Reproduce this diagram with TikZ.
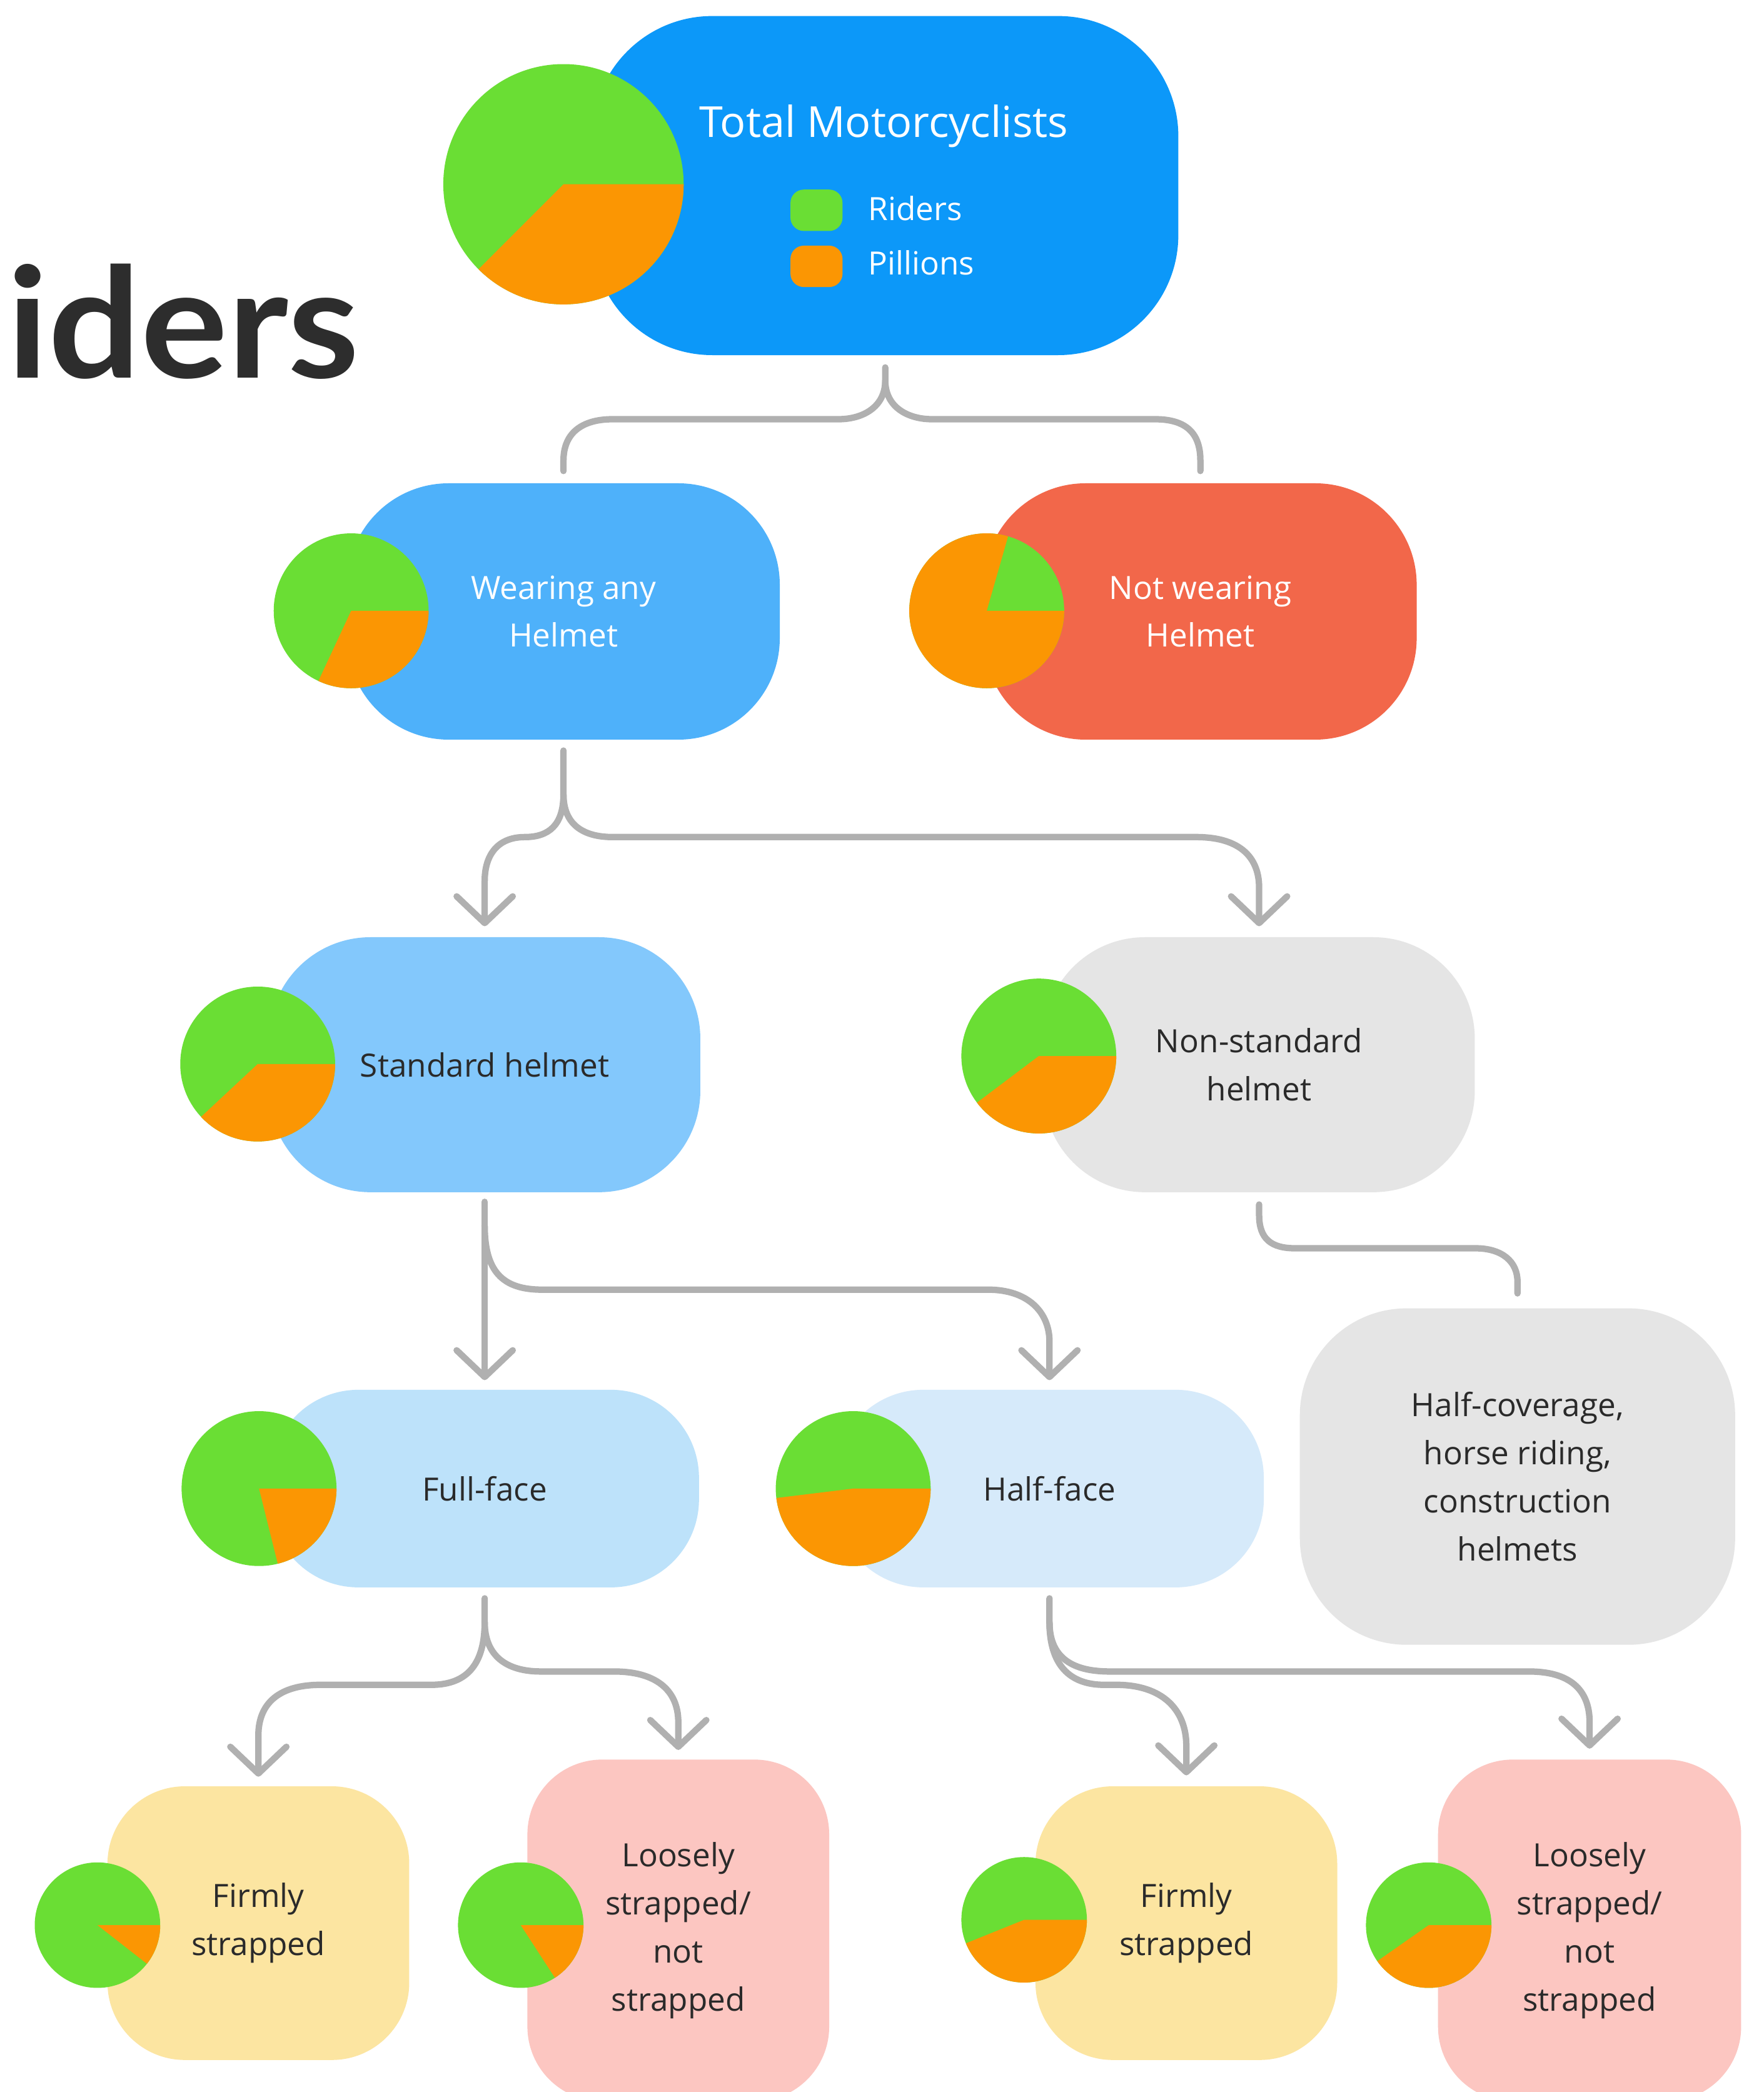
\documentclass[tikz,border=0pt]{standalone}
\usepackage{fontspec}
\setmainfont{Open Sans}
\newfontfamily\latofont[FakeStretch=1.06]{Lato}
\usetikzlibrary{arrows.meta,calc}
\definecolor{ctop}{HTML}{0C98F9}
\definecolor{cgreen}{HTML}{6ADE34}
\definecolor{corange}{HTML}{FB9603}
\definecolor{cwear}{HTML}{4EB1FA}
\definecolor{cnot}{HTML}{F2674A}
\definecolor{cstd}{HTML}{83C8FC}
\definecolor{cgray}{HTML}{E5E5E5}
\definecolor{cfull}{HTML}{BDE2FA}
\definecolor{chalf}{HTML}{D6EAFA}
\definecolor{cyellow}{HTML}{FCE5A1}
\definecolor{cpink}{HTML}{FCC6C1}
\definecolor{cline}{HTML}{B0B0B0}
\definecolor{ctext}{HTML}{2A2A2A}
\definecolor{ctitle}{HTML}{2D2D2D}
\newcommand{\mypie}[5]{%
  \fill[cgreen] (#1,#2) circle (#3);
  \fill[corange] (#1,#2) -- ++(#4:#3) arc[start angle=#4, end angle=#5, radius=#3] -- cycle;}
\begin{document}
\begin{tikzpicture}[x=1pt,y=1pt,
  box/.style={rectangle, inner sep=0pt, align=center, text=ctext, font=\fontsize{24pt}{36pt}\selectfont},
  conn/.style={draw=cline, line width=4.8pt, line cap=round, line join=round},
  arr/.style={-{Straight Barb[length=20pt,width=42pt,round]}},
  lab/.style={inner sep=0pt, text=white, font=\fontsize{24pt}{36pt}\selectfont}]
\useasboundingbox (0,0) rectangle (1321,-1567);
\fill[white] (0,0) rectangle (1321,-1567);

% title fragment
\node[anchor=base west, inner sep=0pt, text=ctitle, font=\latofont\bfseries\fontsize{115pt}{115pt}\selectfont] (ttl) at (5,-283) {iders};

% boxes
\node[box, fill=ctop, minimum width=439pt, minimum height=254pt, rounded corners=90pt] (top) at (663,-139) {};
\node[box, fill=cwear, text=white, minimum width=324pt, minimum height=192pt, rounded corners=76pt] (wear) at (422,-458) {Wearing any\\Helmet};
\node[box, fill=cnot, text=white, minimum width=324pt, minimum height=192pt, rounded corners=76pt] (notw) at (899,-458) {Not wearing\\Helmet};
\node[box, fill=cstd, minimum width=323pt, minimum height=191pt, rounded corners=76pt] (std) at (363,-797.5) {Standard helmet};
\node[box, fill=cgray, minimum width=323pt, minimum height=191pt, rounded corners=76pt] (nstd) at (943,-797.5) {Non-standard\\helmet};
\node[box, fill=cgray, minimum width=326pt, minimum height=252pt, rounded corners=80pt] (hcov) at (1136.5,-1106) {Half-coverage,\\horse riding,\\construction\\helmets};
\node[box, fill=cfull, minimum width=321pt, minimum height=148pt, rounded corners=66pt] (full) at (363,-1115) {Full-face};
\node[box, fill=chalf, minimum width=321pt, minimum height=148pt, rounded corners=66pt] (half) at (786,-1115) {Half-face};
\node[box, fill=cyellow, minimum width=226pt, minimum height=205pt, rounded corners=58pt] (firmA) at (193.5,-1440.5) {Firmly\\strapped};
\node[box, fill=cpink, minimum width=226pt, minimum height=256pt, rounded corners=56pt] (looseA) at (508,-1446) {Loosely\\strapped/\\not\\strapped};
\node[box, fill=cyellow, minimum width=226pt, minimum height=205pt, rounded corners=58pt] (firmB) at (888.5,-1440.5) {Firmly\\strapped};
\node[box, fill=cpink, minimum width=227pt, minimum height=256pt, rounded corners=56pt] (looseB) at (1190.5,-1446) {Loosely\\strapped/\\not\\strapped};

% top node content
\node[lab, anchor=base, font=\fontsize{32pt}{36pt}\selectfont] (ttext) at (662,-103) {Total Motorcyclists};
\node[fill=cgreen, minimum width=39pt, minimum height=31pt, rounded corners=10pt, inner sep=0pt] (lgg) at (611.5,-157.5) {};
\node[fill=corange, minimum width=39pt, minimum height=31pt, rounded corners=10pt, inner sep=0pt] (lgo) at (611.5,-199.5) {};
\node[lab, anchor=base west] (lgrt) at (650,-165) {Riders};
\node[lab, anchor=base west] (lgot) at (650,-206) {Pillions};

% pies
\mypie{422}{-138}{90}{-135}{0}
\mypie{263}{-457.5}{58}{-115}{0}
\mypie{739}{-457.5}{58}{74}{360}
\mypie{193}{-797}{58}{-137}{0}
\mypie{778}{-791}{58}{-143}{0}
\mypie{194}{-1115}{58}{-76}{0}
\mypie{639}{-1115}{58}{-173}{0}
\mypie{73}{-1442}{47}{-38}{0}
\mypie{390}{-1442}{47}{-57}{0}
\mypie{767}{-1438}{47}{-158}{0}
\mypie{1070}{-1442}{47}{-145}{0}

% connectors
\coordinate (c1) at ([yshift=-9pt]top.south);
\draw[conn] (c1) -- (663,-285) .. controls (663,-305) and (646,-314) .. (628,-314) -- (459,-314) .. controls (435,-314) and (422,-325) .. (422,-345) -- ([yshift=9pt]wear.north);
\draw[conn] (663,-285) .. controls (663,-305) and (680,-314) .. (698,-314) -- (865,-314) .. controls (889,-314) and (899,-325) .. (899,-345) -- ([yshift=9pt]notw.north);

\draw[conn,arr] ([yshift=-8pt]wear.south) -- (422,-595) .. controls (422,-618) and (411,-627) .. (393,-627) .. controls (373,-627) and (363,-640) .. (363,-660) -- ([yshift=8pt]std.north);
\draw[conn,arr] (422,-595) .. controls (422,-617) and (436,-627) .. (459,-627) -- (896,-627) .. controls (926,-627) and (943,-640) .. (943,-665) -- ([yshift=8pt]nstd.north);

\draw[conn] ([yshift=-9pt]nstd.south) -- (943,-910) .. controls (943,-928) and (952,-935) .. (970,-935) -- (1105,-935) .. controls (1125,-935) and (1136.5,-945) .. (1136.5,-960) -- ([yshift=11pt]hcov.north);

\draw[conn,arr] ([yshift=-7pt]std.south) -- ([yshift=7pt]full.north);
\draw[conn,arr] (363,-918) .. controls (363,-952) and (376,-966) .. (406,-966) -- (740,-966) .. controls (770,-966) and (786,-983) .. (786,-1005) -- ([yshift=7pt]half.north);

\draw[conn,arr] ([yshift=-8pt]full.south) -- (363,-1215) .. controls (363,-1245) and (351,-1262) .. (323,-1262) -- (240,-1262) .. controls (210,-1262) and (193.5,-1275) .. (193.5,-1300) -- ([yshift=7pt]firmA.north);
\draw[conn,arr] (363,-1215) .. controls (363,-1240) and (379,-1252) .. (405,-1252) -- (460,-1252) .. controls (490,-1252) and (508,-1265) .. (508,-1290) -- ([yshift=7pt]looseA.north);

\draw[conn,arr] ([yshift=-8pt]half.south) -- (786,-1215) .. controls (786,-1247) and (801,-1262) .. (827,-1262) -- (836,-1262) .. controls (870,-1262) and (888.5,-1280) .. (888.5,-1308) -- ([yshift=8pt]firmB.north);
\draw[conn,arr] (786,-1215) .. controls (786,-1240) and (801,-1252) .. (831,-1252) -- (1145,-1252) .. controls (1175,-1252) and (1190.5,-1265) .. (1190.5,-1290) -- ([yshift=8pt]looseB.north);
\end{tikzpicture}
\end{document}
